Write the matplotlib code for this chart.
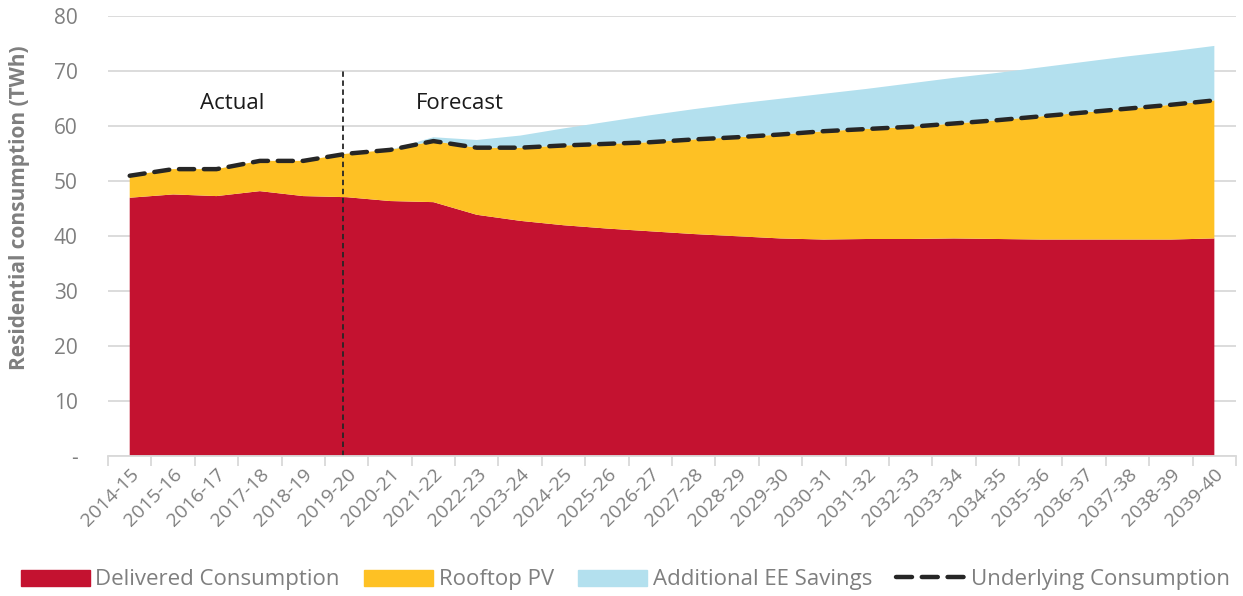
import numpy as np
import matplotlib.pyplot as plt
from matplotlib.patches import Patch
from matplotlib.lines import Line2D

plt.rcParams['font.family'] = ['Open Sans', 'DejaVu Sans']

years = ["2014-15", "2015-16", "2016-17", "2017-18", "2018-19", "2019-20",
         "2020-21", "2021-22", "2022-23", "2023-24", "2024-25", "2025-26",
         "2026-27", "2027-28", "2028-29", "2029-30", "2030-31", "2031-32",
         "2032-33", "2033-34", "2034-35", "2035-36", "2036-37", "2037-38",
         "2038-39", "2039-40"]

delivered = [46.9, 47.5, 47.2, 48.1, 47.2, 47.0, 46.3, 46.1, 43.8, 42.7,
             41.9, 41.3, 40.8, 40.3, 39.9, 39.5, 39.3, 39.4, 39.4, 39.5,
             39.4, 39.3, 39.3, 39.3, 39.3, 39.5]
rooftop_pv = [4.0, 4.6, 4.9, 5.5, 6.4, 7.9, 9.3, 11.1, 12.2, 13.3,
              14.5, 15.4, 16.2, 17.2, 18.0, 18.9, 19.7, 20.0, 20.4, 20.9,
              21.6, 22.4, 23.1, 23.8, 24.5, 25.1]
ee_savings = [0.0, 0.0, 0.0, 0.0, 0.0, 0.0, 0.0, 0.7, 1.4, 2.2,
              3.1, 4.0, 4.9, 5.5, 6.1, 6.5, 6.8, 7.3, 7.9, 8.3,
              8.6, 8.9, 9.2, 9.5, 9.7, 9.9]

last_actual = "2019-20"

RED = '#c41230'
YELLOW = '#fec124'
BLUE = '#b3e0ee'
GRID = '#d9d9d9'
GREY = '#7f7f7f'

x = np.arange(len(years))
underlying = np.array(delivered) + np.array(rooftop_pv)

fig = plt.figure(figsize=(12.43, 5.96), dpi=100)
ax = fig.add_axes([0.0869, 0.2354, 0.9075, 0.7383])

ax.stackplot(x, delivered, rooftop_pv, ee_savings,
             colors=[RED, YELLOW, BLUE], linewidth=0, zorder=2)
ax.plot(x, underlying, color='#262626', lw=3.2, dashes=(3.4, 2.2), zorder=3,
        dash_capstyle='round')

# actual / forecast split
xs = years.index(last_actual) - 0.08
ax.plot([xs, xs], [0, 70], color='#262626', lw=1.3, ls=(0, (3, 2)), zorder=4)
ax.text(2.36, 64.0, 'Actual', fontsize=16, ha='center', va='center', color='#1a1a1a')
ax.text(7.61, 64.0, 'Forecast', fontsize=16, ha='center', va='center', color='#1a1a1a')

ax.set_xlim(-0.5, len(years) - 0.5)
ax.set_ylim(0, 80)
ax.set_yticks(np.arange(0, 81, 10))
ax.set_yticklabels(['-'] + [str(v) for v in range(10, 81, 10)])
ax.grid(axis='y', color=GRID, lw=1.3, zorder=0)
ax.set_axisbelow(True)

ax.set_xticks(np.arange(-0.5, len(years), 1.0))
ax.set_xticklabels([])
ax.set_xticks(x, minor=True)
ax.set_xticklabels(years, minor=True, rotation=45, ha='right',
                   rotation_mode='anchor', fontsize=14, color=GREY)
ax.tick_params(axis='x', which='major', length=7, width=1.3, color=GRID, direction='out')
ax.tick_params(axis='x', which='minor', length=0, pad=7)
ax.tick_params(axis='y', length=0, pad=22, labelsize=15, labelcolor=GREY)

for s in ['top', 'right', 'left']:
    ax.spines[s].set_visible(False)
ax.spines['bottom'].set_color(GRID)
ax.spines['bottom'].set_linewidth(1.3)
ax.spines['bottom'].set_zorder(5)

ax.set_ylabel('Residential consumption (TWh)', fontsize=15, fontweight='bold',
              color=GREY)
ax.yaxis.set_label_coords(-0.069, 0.563)

handles = [Patch(color=RED), Patch(color=YELLOW), Patch(color=BLUE),
           Line2D([0], [0], color='#262626', lw=3.2, dashes=(3.6, 2.2),
                  dash_capstyle='round')]
labels = ['Delivered Consumption', 'Rooftop PV', 'Additional EE Savings',
          'Underlying Consumption']
leg = fig.legend(handles, labels, loc='center', bbox_to_anchor=(0.503, 0.027),
                 ncol=4, frameon=False, fontsize=16, handlelength=3.1,
                 handleheight=0.75, handletextpad=0.25, columnspacing=1.1,
                 borderpad=0, borderaxespad=0)
for t in leg.get_texts():
    t.set_color(GREY)

fig.savefig('out.png', dpi=100)
